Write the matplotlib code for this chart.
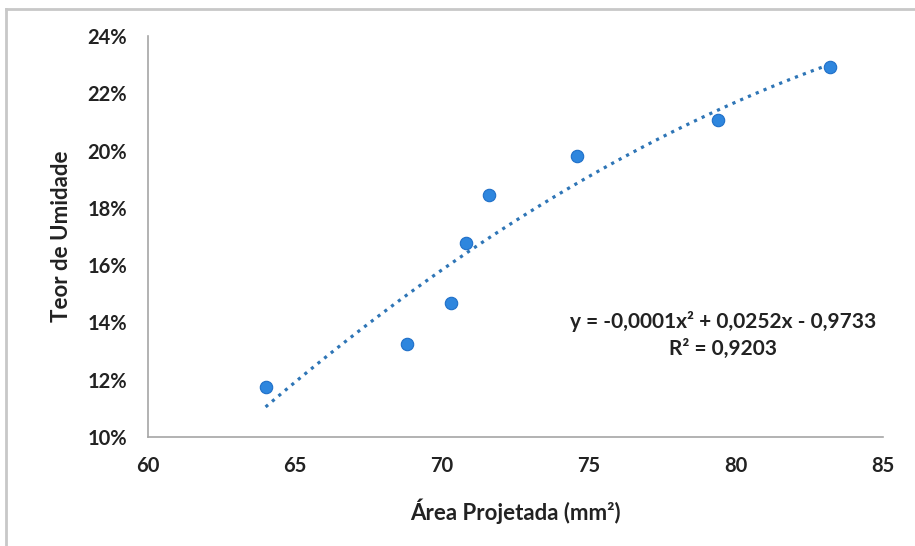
import numpy as np
import matplotlib.pyplot as plt
from matplotlib.lines import Line2D
from matplotlib.ticker import FuncFormatter

# Data
area = [64.0, 68.8, 70.3, 70.8, 71.6, 74.6, 79.4, 83.2]
umidade = [0.1175, 0.1325, 0.1468, 0.1677, 0.1845, 0.1981, 0.2107, 0.2292]
x_ticks = [60, 65, 70, 75, 80, 85]
y_ticks = [0.10, 0.12, 0.14, 0.16, 0.18, 0.20, 0.22, 0.24]

plt.rcParams['font.family'] = ['Lato', 'DejaVu Sans']

fig = plt.figure(figsize=(9.15, 5.46), dpi=100)
ax = fig.add_axes([148 / 915, 1 - 437 / 546, (883 - 148) / 915, (437 - 36) / 546])

# outer frame (only top and left edges visible in the screenshot)
fx, fy = 6 / 915, 1 - 9 / 546
fig.lines.append(Line2D([fx, 1], [fy, fy], transform=fig.transFigure,
                        color='#c8c8c8', linewidth=2))
fig.lines.append(Line2D([fx, fx], [0, fy], transform=fig.transFigure,
                        color='#c8c8c8', linewidth=2))

# polynomial trendline (order 2)
coef = np.polyfit(area, umidade, 2)
xs = np.linspace(min(area), max(area), 100)
ax.plot(xs, np.polyval(coef, xs), linestyle=':', color='#2E75B6', linewidth=2.3)

ax.scatter(area, umidade, s=80, color='#2E86DE', edgecolor='#1F6FC8',
           linewidth=0.8, zorder=3)

ax.set_xlim(60, 85)
ax.set_ylim(0.10, 0.24)
ax.set_xticks(x_ticks)
ax.set_yticks(y_ticks)
ax.yaxis.set_major_formatter(FuncFormatter(lambda v, p: f"{v * 100:.0f}%"))
ax.tick_params(axis='y', length=0, labelsize=14.5, pad=15)
ax.tick_params(axis='x', length=0, labelsize=14.5, pad=14)
for lab in ax.get_xticklabels() + ax.get_yticklabels():
    lab.set_fontweight('bold')
    lab.set_color('#222222')

for side in ['top', 'right']:
    ax.spines[side].set_visible(False)
for side in ['left', 'bottom']:
    ax.spines[side].set_color('#a6a6a6')
    ax.spines[side].set_linewidth(1.2)

ax.set_xlabel('Área Projetada (mm²)', fontsize=16, fontweight='bold',
              labelpad=16, color='#222222')
ax.set_ylabel('Teor de Umidade', fontsize=16, fontweight='bold',
              labelpad=11, color='#222222')

ax.text(0.782, 0.255, 'y = -0,0001x² + 0,0252x - 0,9733\nR² = 0,9203',
        transform=ax.transAxes, ha='center', va='center', fontsize=15,
        fontweight='bold', linespacing=1.45, color='#222222')

fig.savefig('out.png', dpi=100)
